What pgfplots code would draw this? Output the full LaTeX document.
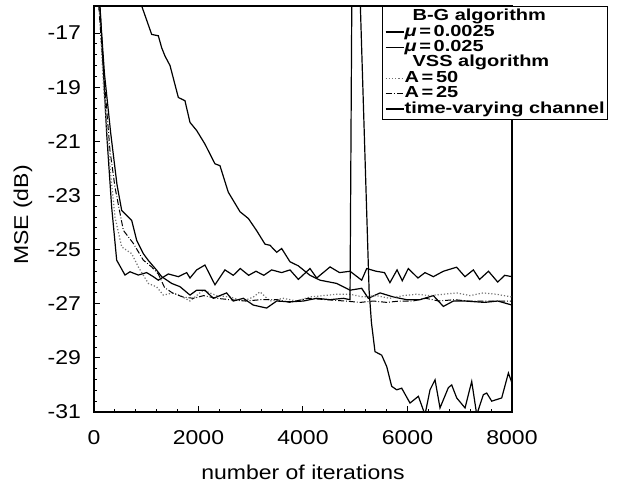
\documentclass[border=0pt]{standalone}
\usepackage{fontspec}
\setmainfont{Liberation Sans}[FakeStretch=1.15]
\newfontfamily\legfont{Liberation Sans}[FakeStretch=1.25]
\usepackage{pgfplots}
\pgfplotsset{compat=1.18}

\begin{document}
\begin{tikzpicture}
\begin{axis}[
    name=ax,
    scale only axis,
    width=209pt, height=203pt,
    xmin=0, xmax=8000, ymin=-31, ymax=-16,
    xtick={0,2000,4000,6000,8000},
    ytick={-31,-29,-27,-25,-23,-21,-19,-17},
    minor x tick num=4, minor y tick num=4,
    tick pos=left, tick align=inside,
    major tick length=3pt, minor tick length=1.5pt,
    axis line style={line width=0.8pt},
    every tick/.style={black, line width=0.5pt},
    scaled x ticks=false,
    /pgf/number format/assume math mode=true,
    /pgf/number format/1000 sep={},
    ticklabel style={font=\fontsize{10}{11}\selectfont},
    xticklabel style={anchor=center, yshift=-13pt},
    yticklabel style={anchor=east, xshift=-3pt},
    xlabel={number of iterations},
    ylabel={MSE (dB)},
    label style={font=\fontsize{10}{11}\selectfont},
    xlabel style={at={(axis description cs:0.5,-0.148)}, anchor=center},
    ylabel style={at={(axis description cs:-0.17,0.485)}, anchor=center},
    legend cell align=left,
    legend image code/.code={\draw[#1] (0pt,0pt) -- (9pt,0pt);},
    legend style={
        at={(0.689,1)}, anchor=north west,
        draw=black, line width=0.6pt, inner sep=1.2pt,
        font=\legfont\bfseries\fontsize{8}{8}\selectfont,
        row sep=0pt,
        nodes={inner sep=0.2pt, text height=5.7pt, text depth=1.6pt},
        /tikz/every even column/.append style={column sep=1pt},
    },
]
% B-G, mu = 0.0025 (slow)
\addplot[black, line width=0.6pt, forget plot] coordinates {
(700,-14) (913,-16.0) (1104,-17.05) (1231,-17.1) (1295,-17.54) (1359,-17.85)
(1455,-18.2) (1614,-19.38) (1741,-19.5) (1837,-20.3) (1965,-20.6) (2123,-21.1)
(2315,-21.83) (2411,-21.9) (2570,-22.88) (2794,-23.6) (2954,-23.85) (3113,-24.3)
(3273,-24.8) (3368,-24.84) (3496,-25.1) (3592,-24.96) (3751,-25.45) (3911,-25.6)
(4134,-25.95) (4326,-26.13) (4645,-26.25) (4900,-26.5) (5123,-26.43) (5250,-26.8)
(5475,-26.6) (5730,-26.75) (5985,-26.85) (6240,-26.85) (6495,-26.7) (6686,-27.1)
(6878,-26.9) (7100,-26.9) (7474,-26.95) (7730,-26.9) (8000,-27.05)
};
% B-G, mu = 0.025 (fast)
\addplot[black, line width=0.6pt, forget plot] coordinates {
(0,-14) (115,-16.0) (243,-20.73) (338,-23.43) (434,-25.39) (593,-25.94)
(689,-25.82) (848,-25.94) (1008,-25.85) (1135,-26.0) (1231,-26.13) (1423,-25.9)
(1614,-26.0) (1774,-25.85) (1837,-26.05) (1965,-25.75) (2123,-25.57) (2315,-26.3)
(2506,-25.75) (2666,-25.95) (2800,-25.7) (2960,-25.95) (3100,-25.8) (3250,-25.95)
(3400,-25.75) (3592,-25.85) (3751,-25.75) (3911,-26.1) (4134,-25.7) (4262,-26.05)
(4518,-25.64) (4700,-25.85) (4900,-25.8) (5123,-26.13) (5219,-25.7) (5400,-25.8)
(5560,-25.85) (5664,-26.22) (5800,-25.75) (5900,-26.15) (6015,-25.7) (6200,-26.05)
(6335,-25.85) (6495,-26.0) (6686,-25.8) (6940,-25.65) (7100,-26.0) (7260,-25.75)
(7380,-26.1) (7550,-25.8) (7727,-26.2) (7860,-25.95) (8000,-26.0)
};
% VSS, A = 50
\addplot[black!55, densely dotted, line width=0.6pt, forget plot] coordinates {
(0,-14) (100,-16.0) (179,-18.9) (306,-21.96) (402,-23.8) (530,-24.9)
(721,-25.15) (848,-25.64) (1040,-26.25) (1199,-26.38) (1327,-26.68) (1519,-26.6)
(1646,-26.7) (1837,-26.9) (2091,-26.5) (2347,-26.7) (2600,-26.75) (2858,-26.9)
(3049,-26.75) (3177,-26.56) (3368,-26.9) (3624,-26.8) (3880,-26.9) (4134,-26.75)
(4390,-26.7) (4645,-26.65) (4900,-26.65) (5150,-26.75) (5400,-26.7) (5660,-26.8)
(5920,-26.7) (6170,-26.65) (6430,-26.7) (6686,-26.65) (6940,-26.6) (7200,-26.7)
(7450,-26.6) (7700,-26.65) (8000,-26.75)
};
% VSS, A = 25
\addplot[black, densely dashdotted, line width=0.5pt, forget plot] coordinates {
(0,-14) (90,-16.0) (179,-18.28) (306,-21.34) (402,-22.7) (562,-24.29)
(753,-24.77) (944,-25.39) (1104,-25.64) (1231,-25.9) (1350,-26.4) (1500,-26.6)
(1700,-26.75) (1900,-26.8) (2100,-26.7) (2350,-26.8) (2600,-26.85) (2900,-26.9)
(3200,-26.85) (3500,-26.85) (3750,-26.95) (4100,-26.8) (4450,-26.85) (4800,-26.9)
(5100,-26.95) (5350,-26.9) (5600,-26.95) (5850,-26.9) (6100,-26.9) (6350,-26.8)
(6600,-26.9) (6900,-26.85) (7150,-26.9) (7400,-26.9) (7650,-26.9) (8000,-26.9)
};
% time-varying channel
\addplot[black, line width=0.6pt, forget plot] coordinates {
(0,-14) (110,-16.0) (200,-18.5) (320,-20.7) (440,-22.6) (530,-23.55)
(721,-23.92) (817,-24.66) (944,-25.15) (1040,-25.4) (1199,-25.76) (1295,-26.0)
(1487,-26.25) (1646,-26.37) (1837,-26.68) (1965,-26.5) (2123,-26.5) (2283,-26.8)
(2538,-26.6) (2666,-26.9) (2858,-26.8) (3049,-27.05) (3304,-27.16) (3496,-26.9)
(3751,-26.93) (4007,-26.9) (4262,-26.8) (4518,-26.85) (4773,-26.8) (4900,-26.85)
(4935,-15.5) (5090,-15.5) (5265,-26.5) (5310,-27.7) (5378,-28.77) (5506,-28.9)
(5602,-29.32) (5697,-30.05) (5793,-30.18) (5889,-30.12) (6048,-30.67) (6208,-30.42)
(6335,-31.1) (6431,-30.18) (6527,-29.81) (6622,-30.85) (6782,-30.1) (6846,-30.0)
(6942,-30.48) (7101,-30.85) (7229,-29.87) (7325,-31.1) (7452,-30.36) (7516,-30.3)
(7612,-30.6) (7803,-30.48) (7931,-29.56) (8000,-29.93)
};
\addlegendimage{empty legend}
\addlegendentry{\hspace{4pt}B-G algorithm}
\addlegendimage{black, line width=0.6pt}
\addlegendentry{\textit{μ}\,=\,0.0025}
\addlegendimage{black, line width=0.6pt}
\addlegendentry{\textit{μ}\,=\,0.025}
\addlegendimage{empty legend}
\addlegendentry{\hspace{4pt}VSS algorithm}
\addlegendimage{black!55, densely dotted, line width=0.6pt}
\addlegendentry{A\,=\,50}
\addlegendimage{black, densely dashdotted, line width=0.5pt}
\addlegendentry{A\,=\,25}
\addlegendimage{black, line width=0.6pt}
\addlegendentry{time-varying channel}
\end{axis}
\pgfresetboundingbox
\path ([shift={(-47pt,-37.5pt)}]ax.south west) rectangle ([shift={(57pt,3pt)}]ax.north east);
\end{tikzpicture}
\end{document}
